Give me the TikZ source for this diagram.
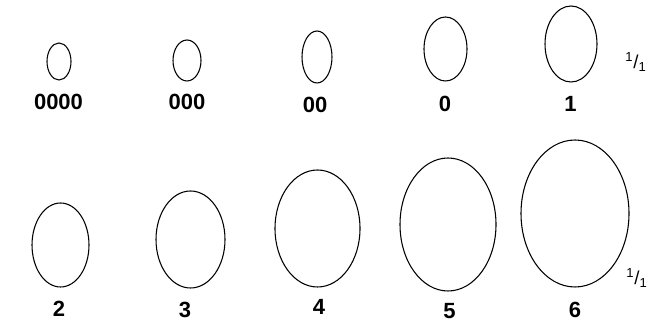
\documentclass[tikz,border=0pt]{standalone}
\usepackage{fontspec}
\setmainfont{Liberation Sans}
\usetikzlibrary{shapes.geometric}
\tikzset{cup/.style 2 args={ellipse,draw,line width=0.8pt,inner sep=0pt,
    minimum width=#1*1.5pt,minimum height=#2*1.5pt},
  size/.style={anchor=base,inner sep=0pt,font=\fontsize{16.5}{18}\selectfont\bfseries},
  ratio/.style={inner sep=0pt,font=\fontsize{14}{16}\selectfont}}

\begin{document}
\begin{tikzpicture}[x=0.75pt,y=-0.75pt]
  \useasboundingbox (0,0) rectangle (649,323);
  % top row
  \node[cup={12}{18.5}] (c0000) at (59,61.5) {};
  \node[cup={14}{20.5}] (c000) at (187,60.5) {};
  \node[cup={15}{26}] (c00) at (317,57) {};
  \node[cup={21.5}{32}] (c0) at (445.5,49) {};
  \node[cup={26}{38}] (c1) at (571,44) {};
  \node[size] (l0000) at (58.5,110) {0000};
  \node[size] (l000) at (187,110) {000};
  \node[size] (l00) at (315,113) {00};
  \node[size] (l0) at (445,112) {0};
  \node[size] (l1) at (570.5,112) {1};
  \node[ratio] (r1) at (636,62) {\textsuperscript{1}/\textsubscript{1}};
  % bottom row
  \node[cup={28.5}{42}] (c2) at (60.5,245) {};
  \node[cup={34.5}{48.5}] (c3) at (190.5,239.5) {};
  \node[cup={42.5}{58.5}] (c4) at (317.5,228.5) {};
  \node[cup={48}{66.5}] (c5) at (448,224.5) {};
  \node[cup={54}{73.5}] (c6) at (575,213.5) {};
  \node[size] (l2) at (59,317) {2};
  \node[size] (l3) at (185,318) {3};
  \node[size] (l4) at (319,315) {4};
  \node[size] (l5) at (449.5,319) {5};
  \node[size] (l6) at (575,318) {6};
  \node[ratio] (r2) at (637,278) {\textsuperscript{1}/\textsubscript{1}};
\end{tikzpicture}
\end{document}
